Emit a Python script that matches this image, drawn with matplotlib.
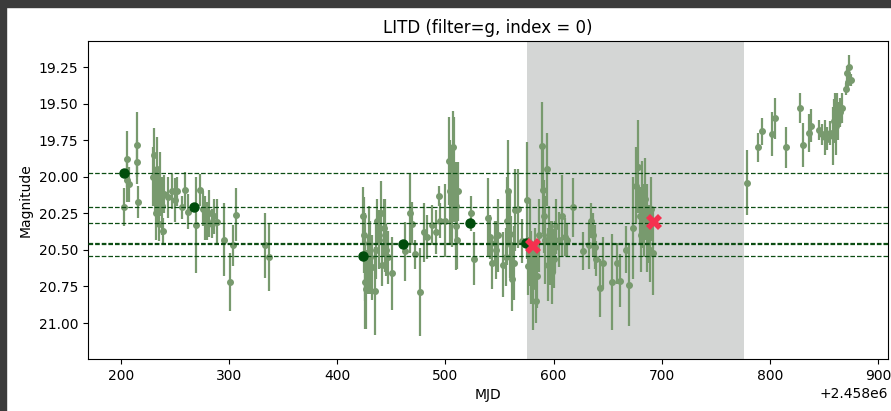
import matplotlib
matplotlib.use("Agg")
import matplotlib.pyplot as plt
from matplotlib.patches import Rectangle

MJD_BASE = 2458000.0

# light-curve points (MJD offset from base, magnitude, error)
mjd_off = [
    202.8, 205.3, 205.8, 207.7, 214.5, 215.1, 215.6, 229.6, 230.5, 231.5, 232.5, 233.5,
    234.5, 235.5, 236.5, 237.5, 238.5, 239.5, 243.7, 246.9, 249.9, 252.1, 256.1, 259.2,
    262.2, 269.4, 273.1, 275.8, 277.8, 279.8, 281.8, 283.8, 285.8, 288.5, 295.2, 300.8,
    303.8, 306.3, 333.2, 337.1,
    424.1, 424.6, 425.5, 427.0, 428.0, 430.0, 434.9, 437.0, 439.0, 441.0, 443.0, 445.0,
    450.9, 462.6, 467.2, 468.8, 471.9, 476.5, 480.2, 482.7, 487.3, 491.3, 493.8, 495.0,
    503.0, 505.0, 506.5, 508.0, 509.5, 511.0, 512.0, 523.5, 526.4, 539.6, 541.5, 543.0,
    545.5, 547.0, 556.0, 558.0, 560.0, 561.0, 563.0, 564.0, 567.4, 570.5, 575.1, 576.0,
    579.0, 581.0, 583.0, 585.0, 589.0, 590.5, 591.5, 592.5, 593.5, 595.5, 597.0, 598.5,
    600.0, 601.5, 602.2, 605.0, 607.8, 610.6, 612.7, 617.7, 627.5, 633.0, 635.0, 636.5,
    638.0, 639.5, 642.9, 646.0, 653.7, 658.4, 661.4, 667.0, 670.0, 673.7, 676.2, 678.3,
    679.9, 682.0, 684.0, 686.0, 688.0, 690.0, 692.2,
    426.0, 429.0, 432.0, 436.0, 440.0, 444.0, 447.0, 500.0, 504.0, 507.3, 510.0,
    548.5, 553.0, 557.0, 562.0, 578.0, 584.0, 587.0, 594.5, 599.0, 681.0, 685.0, 689.0,
    779.1, 789.3, 792.5, 801.7, 804.8, 814.6, 827.9, 830.4, 836.5, 838.1, 845.5, 847.9,
    851.0, 853.1, 855.6, 858.5, 859.5, 860.5, 861.5, 862.5, 863.5, 864.5, 866.4, 870.5,
    871.5, 872.5, 873.5, 875.5,
]
mag = [
    20.21, 19.88, 20.02, 20.05, 19.78, 19.90, 20.17, 20.00, 19.85, 20.10, 20.25, 19.95,
    20.15, 20.32, 20.05, 20.20, 20.37, 20.12, 20.14, 20.10, 20.16, 20.10, 20.21, 20.09,
    20.24, 20.33, 20.09, 20.22, 20.28, 20.30, 20.25, 20.32, 20.27, 20.31, 20.43, 20.72,
    20.47, 20.26, 20.47, 20.55,
    20.27, 20.40, 20.72, 20.77, 20.60, 20.55, 20.78, 20.30, 20.43, 20.60, 20.35, 20.50,
    20.66, 20.51, 20.25, 20.32, 20.53, 20.79, 20.38, 20.41, 20.33, 20.38, 20.13, 20.30,
    19.89, 20.03, 20.18, 19.95, 20.34, 20.43, 20.10, 20.25, 20.56, 20.28, 20.41, 20.59,
    20.45, 20.50, 20.55, 20.10, 20.39, 20.47, 20.59, 20.23, 20.22, 20.44, 20.16, 20.61,
    20.62, 20.75, 20.55, 20.68, 19.79, 20.09, 20.27, 20.43, 19.95, 20.40, 20.52, 20.45,
    20.56, 20.48, 20.34, 20.43, 20.27, 20.41, 20.43, 20.21, 20.51, 20.47, 20.30, 20.40,
    20.48, 20.56, 20.76, 20.59, 20.72, 20.59, 20.71, 20.50, 20.74, 20.35, 20.06, 19.93,
    20.27, 20.19, 20.30, 20.35, 20.39, 20.22, 20.52,
    20.55, 20.45, 20.62, 20.50, 20.25, 20.40, 20.55, 20.30, 20.10, 19.80, 20.20,
    20.40, 20.60, 20.30, 20.70, 20.45, 20.85, 20.40, 20.60, 20.65, 20.40, 20.15, 20.50,
    20.04, 19.80, 19.69, 19.71, 19.60, 19.80, 19.53, 19.78, 19.70, 19.65, 19.68, 19.71,
    19.73, 19.74, 19.70, 19.72, 19.62, 19.55, 19.65, 19.58, 19.62, 19.56, 19.53, 19.40,
    19.29, 19.35, 19.25, 19.34,
]
mag_err = [
    0.13, 0.19, 0.15, 0.12, 0.22, 0.15, 0.11, 0.20, 0.18, 0.15, 0.18, 0.22,
    0.17, 0.12, 0.22, 0.20, 0.09, 0.13, 0.14, 0.12, 0.15, 0.10, 0.08, 0.12,
    0.12, 0.33, 0.11, 0.12, 0.15, 0.13, 0.16, 0.10, 0.12, 0.16, 0.25, 0.20,
    0.14, 0.18, 0.22, 0.23,
    0.20, 0.26, 0.32, 0.27, 0.20, 0.25, 0.30, 0.15, 0.20, 0.15, 0.20, 0.18,
    0.25, 0.20, 0.27, 0.15, 0.10, 0.30, 0.20, 0.15, 0.14, 0.15, 0.07, 0.12,
    0.30, 0.25, 0.30, 0.36, 0.30, 0.20, 0.20, 0.12, 0.18, 0.27, 0.15, 0.18,
    0.15, 0.20, 0.20, 0.35, 0.30, 0.20, 0.25, 0.28, 0.27, 0.15, 0.40, 0.20,
    0.25, 0.30, 0.20, 0.22, 0.30, 0.30, 0.25, 0.30, 0.25, 0.20, 0.22, 0.15,
    0.20, 0.18, 0.19, 0.19, 0.28, 0.13, 0.11, 0.20, 0.13, 0.16, 0.12, 0.15,
    0.15, 0.12, 0.20, 0.18, 0.33, 0.14, 0.18, 0.16, 0.28, 0.35, 0.26, 0.32,
    0.20, 0.30, 0.25, 0.30, 0.20, 0.22, 0.29,
    0.30, 0.25, 0.22, 0.20, 0.22, 0.25, 0.18, 0.25, 0.35, 0.25, 0.30,
    0.25, 0.22, 0.30, 0.22, 0.30, 0.15, 0.25, 0.25, 0.22, 0.25, 0.28, 0.22,
    0.22, 0.10, 0.09, 0.15, 0.14, 0.14, 0.10, 0.15, 0.13, 0.11, 0.07, 0.07,
    0.12, 0.08, 0.08, 0.20, 0.15, 0.12, 0.20, 0.15, 0.13, 0.10, 0.10, 0.04,
    0.05, 0.04, 0.08, 0.04,
]

# reference (dark) points
ref_off = [202.8, 267.8, 423.8, 461.0, 522.7, 574.8]
ref_mag = [19.975, 20.209, 20.541, 20.459, 20.314, 20.456]

# flagged points (red X)
flag_off = [581.3, 692.6]
flag_mag = [20.476, 20.307]

# shaded window
span_off = [575.7, 776.3]

x = [MJD_BASE + v for v in mjd_off]
rx = [MJD_BASE + v for v in ref_off]
fx = [MJD_BASE + v for v in flag_off]

fig = plt.figure(figsize=(8.91, 4.11), dpi=100)
ax = fig.add_axes([88 / 891, 1 - 359 / 411, 800 / 891, 318 / 411])

ax.axvspan(MJD_BASE + span_off[0], MJD_BASE + span_off[1], color="#d4d6d5", zorder=0, lw=0)

ax.errorbar(x, mag, yerr=mag_err, fmt="o", color="#789a6e", ecolor="#789a6e",
            markersize=4, elinewidth=1.6, capsize=0, zorder=2)

for m in ref_mag:
    ax.axhline(m, color="#0b4d12", ls="--", lw=0.9, zorder=3)

ax.plot(rx, ref_mag, "o", color="#004d0c", markersize=6.5, zorder=4)
ax.plot(fx, flag_mag, "X", color="#f5304f", markersize=11, zorder=5, markeredgewidth=0)

ax.set_xlim(MJD_BASE + 169.5, MJD_BASE + 909.3)
ax.set_ylim(21.246, 19.072)
ax.set_xlabel("MJD")
ax.set_ylabel("Magnitude")
ax.set_title("LITD (filter=g, index = 0)")

# screenshot frame
fig.patches.append(Rectangle((0, 1 - 7 / 411), 1, 7 / 411, transform=fig.transFigure,
                             color="#3b3b3b", zorder=10))
fig.patches.append(Rectangle((0, 0), 6 / 891, 1, transform=fig.transFigure,
                             color="#3b3b3b", zorder=10))

fig.savefig("out.png", dpi=100)
